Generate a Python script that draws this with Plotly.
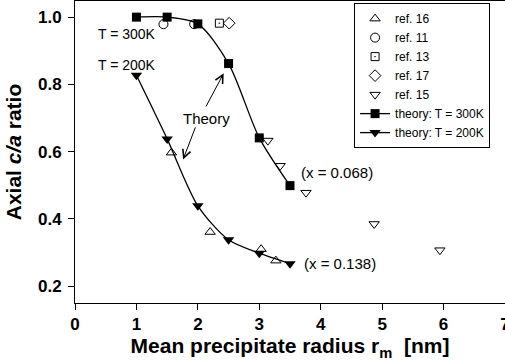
import plotly.graph_objects as go

# Theory curves
theory_x = [1.0, 1.5, 2.0, 2.5, 3.0, 3.5]
theory_300K = [1.0, 1.0, 0.98, 0.862, 0.641, 0.499]
theory_200K = [0.827, 0.638, 0.439, 0.338, 0.298, 0.267]

# Experimental references
ref16_x = [1.57, 2.20, 3.03, 3.27]
ref16_y = [0.597, 0.361, 0.310, 0.276]
ref11_x = [1.44, 1.94]
ref11_y = [0.979, 0.979]
ref13_x = [2.35]
ref13_y = [0.982]
ref17_x = [2.51]
ref17_y = [0.982]
ref15_x = [3.14, 3.34, 3.76, 4.87, 5.94]
ref15_y = [0.633, 0.558, 0.478, 0.385, 0.307]

x_ticks = [0, 1, 2, 3, 4, 5, 6, 7]
y_ticks = [0.2, 0.4, 0.6, 0.8, 1.0]

FONT = "Liberation Sans, Arial, sans-serif"

fig = go.Figure()
mk_open = dict(color="black", size=9, line=dict(color="black", width=1))
fig.add_trace(go.Scatter(x=ref16_x, y=ref16_y, mode="markers", name="ref. 16",
                         marker=dict(symbol="triangle-up-open", **mk_open)))
fig.add_trace(go.Scatter(x=ref11_x, y=ref11_y, mode="markers", name="ref. 11",
                         marker=dict(symbol="circle-open", **mk_open)))
fig.add_trace(go.Scatter(x=ref13_x, y=ref13_y, mode="markers", name="ref. 13",
                         marker=dict(symbol="square-open-dot", color="black", size=8,
                                     line=dict(color="black", width=1))))
fig.add_trace(go.Scatter(x=ref17_x, y=ref17_y, mode="markers", name="ref. 17",
                         marker=dict(symbol="diamond-open", **mk_open)))
fig.add_trace(go.Scatter(x=ref15_x, y=ref15_y, mode="markers", name="ref. 15",
                         marker=dict(symbol="triangle-down-open", **mk_open)))
fig.add_trace(go.Scatter(x=theory_x, y=theory_300K, mode="lines+markers",
                         name="theory: T = 300K",
                         line=dict(color="black", width=1.3, shape="spline", smoothing=0.8),
                         marker=dict(symbol="square", color="black", size=9)))
fig.add_trace(go.Scatter(x=theory_x, y=theory_200K, mode="lines+markers",
                         name="theory: T = 200K",
                         line=dict(color="black", width=1.3, shape="spline", smoothing=0.8),
                         marker=dict(symbol="triangle-down", color="black", size=10)))

t_font = dict(family=FONT, size=14, color="black")
ann_font = dict(family=FONT, size=15, color="black")
annotations = [
    dict(x=0.84, y=0.95, text="T = 300K", showarrow=False, font=t_font),
    dict(x=0.84, y=0.857, text="T = 200K", showarrow=False, font=t_font),
    dict(x=2.14, y=0.70, text="Theory", showarrow=False, font=ann_font),
    dict(x=3.65, y=0.537, text="(x = 0.068)", showarrow=False, xanchor="left", font=ann_font),
    dict(x=3.70, y=0.266, text="(x = 0.138)", showarrow=False, xanchor="left", font=ann_font),
    dict(x=2.42, y=0.833, ax=2.12, ay=0.73, axref="x", ayref="y", text="",
         showarrow=True, arrowhead=5, arrowsize=1.6, arrowwidth=1, arrowcolor="black"),
    dict(x=1.76, y=0.577, ax=1.97, ay=0.677, axref="x", ayref="y", text="",
         showarrow=True, arrowhead=5, arrowsize=1.6, arrowwidth=1, arrowcolor="black"),
]

tick_font = dict(family=FONT, size=17, color="black")
title_font = dict(family=FONT, size=21, color="black")

fig.update_layout(
    width=505, height=362,
    margin=dict(l=75, r=0, t=1, b=59, autoexpand=False),
    plot_bgcolor="white", paper_bgcolor="white",
    showlegend=True,
    annotations=annotations,
    legend=dict(x=0.649, y=0.993, xanchor="left", yanchor="top",
                bordercolor="black", borderwidth=1, bgcolor="white",
                font=dict(family=FONT, size=12, color="black"),
                tracegroupgap=0, itemwidth=30),
    xaxis=dict(range=[0, 7], tickvals=x_ticks, ticktext=[f"<b>{v}</b>" for v in x_ticks],
               showgrid=False, zeroline=False, showline=True, linecolor="black",
               linewidth=1, mirror=True, ticks="outside", ticklen=6, tickcolor="black",
               tickfont=tick_font, automargin=False, ticklabeloverflow="allow",
               title=dict(text="<b>Mean precipitate radius r<sub>m</sub>  [nm]</b>",
                          font=title_font, standoff=4)),
    yaxis=dict(range=[0.15, 1.048], tickvals=y_ticks,
               ticktext=[f"<b>{v:.1f}</b>" for v in y_ticks],
               showgrid=False, zeroline=False, showline=True, linecolor="black",
               linewidth=1, mirror=True, ticks="outside", ticklen=6, tickcolor="black",
               tickfont=tick_font, automargin=False, ticklabelstandoff=3,
               title=dict(text="<b>Axial <i>c/a</i> ratio</b>", font=title_font, standoff=10)),
)

fig.write_html("out.html", config={"displayModeBar": False},
               post_script="document.body.style.margin='0';document.body.style.overflow='hidden';")
